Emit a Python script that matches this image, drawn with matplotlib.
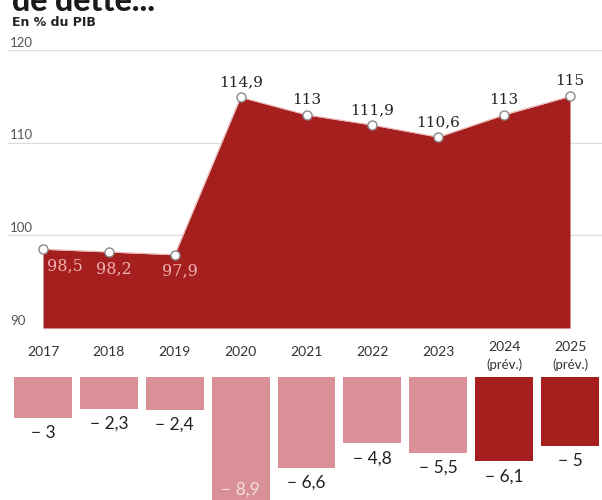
import matplotlib
matplotlib.use("Agg")
import matplotlib.pyplot as plt

# Dette publique (% du PIB) et solde public (% du PIB)
years = ["2017", "2018", "2019", "2020", "2021", "2022", "2023", "2024", "2025"]
forecast = [False, False, False, False, False, False, False, True, True]
debt = [98.5, 98.2, 97.9, 114.9, 113, 111.9, 110.6, 113, 115]
deficit = [-3, -2.3, -2.4, -8.9, -6.6, -4.8, -5.5, -6.1, -5]
grid_ticks = [90, 100, 110, 120]

RED = "#a61f1f"
PINK = "#d99096"
GREY = "#555555"
SANS = "Lato"
SERIF = "DejaVu Serif"

W, H = 602, 500
def fx(px):
    return px / W
def fy(py):
    return 1 - py / H

# x index i sits at pixel 43 + 65.875 * i in both panels
step = 65.875
x0 = 43
xlim = (-x0 / step, (W - x0) / step)

fig = plt.figure(figsize=(W / 100, H / 100), dpi=100)

# ---- debt area ----
top_px, bot_px = 50, 328
ax = fig.add_axes([0, fy(bot_px), 1, (bot_px - top_px) / H])
ax.set_xlim(*xlim)
ax.set_ylim(90, 120)
ax.axis("off")

for t in grid_ticks:
    if t > 90:
        ax.axhline(t, xmin=fx(8), xmax=1, color="#dddddd", lw=0.9, zorder=0)
    ax.text(fx(10), (t - 90) / 30 + 0.005, str(t), transform=ax.transAxes,
            ha="left", va="bottom", fontsize=9.5, color=GREY,
            family=SANS)

xs = list(range(len(years)))
ax.fill_between(xs, debt, 90, color=RED, lw=0, zorder=2)
ax.plot(xs, debt, color="#e9b5b5", lw=0.8, zorder=3)
ax.plot(xs, debt, ls="none", marker="o", ms=6.5, mfc="white",
        mec="#8a8a8a", mew=1, zorder=4, clip_on=False)

for i, v in enumerate(debt):
    lbl = f"{v:g}".replace(".", ",")
    if v < 100:
        dx = 22 if i == 0 else 5
        ax.annotate(lbl, (i, v), xytext=(dx, -17), textcoords="offset pixels",
                    ha="center", va="center", fontsize=11.5, color="#eeb0b0",
                    family=SERIF)
    else:
        ax.annotate(lbl, (i, v), xytext=(0, 15), textcoords="offset pixels",
                    ha="center", va="center", fontsize=11, color="#222222",
                    family=SERIF)

# ---- deficit bars ----
bar_top = 377
px_per_unit = 13.8
axb = fig.add_axes([0, 0, 1, (H - bar_top) / H])
axb.set_xlim(*xlim)
axb.set_ylim(-(H - bar_top) / px_per_unit, 0)
axb.axis("off")

colors = [RED if f else PINK for f in forecast]
axb.bar(xs, deficit, width=0.88, color=colors, lw=0)

for i, v in enumerate(deficit):
    lbl = "− " + f"{abs(v):g}".replace(".", ",")
    if v < -8:
        axb.annotate(lbl, (i, v), xytext=(0, 10), textcoords="offset pixels",
                     ha="center", va="center", fontsize=12.5, color="#f4dede",
                     family=SANS)
    else:
        axb.annotate(lbl, (i, v), xytext=(0, -15), textcoords="offset pixels",
                     ha="center", va="center", fontsize=12.5, color="#222222",
                     family=SANS)

xtr = axb.get_xaxis_transform()
for i, y in enumerate(years):
    if forecast[i]:
        axb.text(i, 1 + (bar_top - 347) / (H - bar_top), y, transform=xtr,
                 ha="center", va="center", fontsize=10, color="#333333", family=SANS)
        axb.text(i, 1 + (bar_top - 365) / (H - bar_top), "(prév.)", transform=xtr,
                 ha="center", va="center", fontsize=9.5, color="#333333", family=SANS)
    else:
        axb.text(i, 1 + (bar_top - 352) / (H - bar_top), y, transform=xtr,
                 ha="center", va="center", fontsize=10, color="#333333", family=SANS)

# ---- headings (title line runs off the top edge) ----
fig.text(fx(12), fy(11), "de dette...", ha="left", va="baseline",
         fontsize=23, fontweight="black", color="#1a1a1a", family=SANS)
fig.text(fx(12), fy(22), "En % du PIB", ha="left", va="center",
         fontsize=9, fontweight="bold", color="#222222", family="DejaVu Sans")

fig.savefig("out.png", dpi=100)
